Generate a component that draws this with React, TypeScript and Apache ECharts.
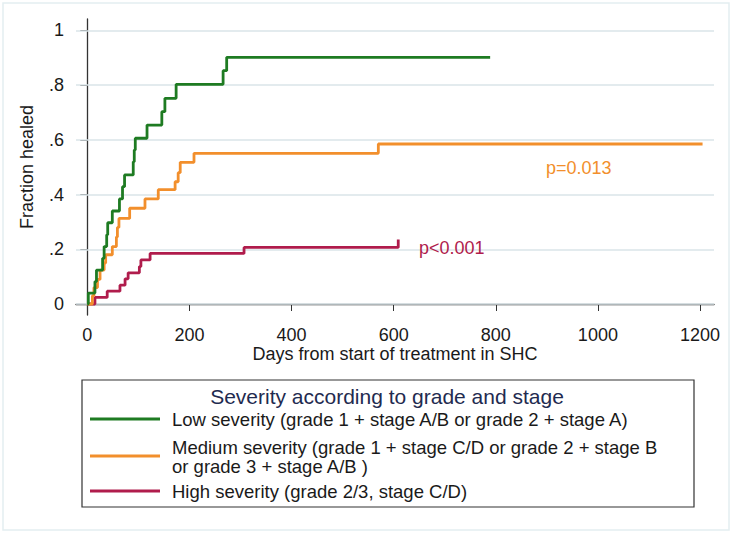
import React, { useEffect, useRef } from "react";
import * as echarts from "echarts";

const xTicks = [0, 200, 400, 600, 800, 1000, 1200];
const yTicks = [0, 0.2, 0.4, 0.6, 0.8, 1];

const lowDays = [0, 2, 15, 18, 30, 33, 38, 40, 49, 63, 69, 73, 90, 92, 94, 117, 146, 152, 174, 266, 273, 789];
const lowFrac = [0, 0.04, 0.082, 0.124, 0.167, 0.21, 0.253, 0.297, 0.34, 0.384, 0.429, 0.472, 0.52, 0.563, 0.606, 0.654, 0.703, 0.752, 0.803, 0.853, 0.902, 0.902];

const medDays = [0, 10, 13, 20, 25, 33, 36, 49, 57, 59, 62, 83, 113, 139, 172, 178, 182, 209, 570, 1205];
const medFrac = [0, 0.03, 0.06, 0.09, 0.124, 0.15, 0.18, 0.21, 0.245, 0.28, 0.313, 0.35, 0.384, 0.418, 0.447, 0.48, 0.518, 0.551, 0.585, 0.585];

const highDays = [0, 15, 39, 64, 74, 80, 102, 105, 123, 307, 609];
const highFrac = [0, 0.024, 0.047, 0.069, 0.092, 0.114, 0.137, 0.161, 0.185, 0.207, 0.236];

const seriesNames = [
  "Low severity (grade 1 + stage A/B or grade 2 + stage A)",
  "Medium severity (grade 1 + stage C/D or grade 2 + stage B",
  "High severity (grade 2/3, stage C/D)",
];
const mediumSecondLine = "or grade 3 + stage A/B )";
const legendTitle = "Severity according to grade and stage";
const colors = ["#1e7b22", "#f28f2c", "#b01c4c"];
const pLabels = ["p=0.013", "p<0.001"];

const FONT = "'Liberation Sans', Arial, Helvetica, sans-serif";

function pairs(d: number[], v: number[]) {
  return d.map((x, i) => [x, v[i]]);
}

export default function App() {
  const ref = useRef<HTMLDivElement>(null);
  useEffect(() => {
    document.body.style.margin = "0";
    if (!ref.current) return;
    const chart = echarts.init(ref.current, null, { renderer: "svg" });
    const data = [pairs(lowDays, lowFrac), pairs(medDays, medFrac), pairs(highDays, highFrac)];
    const legendRows = [419, 456, 491];
    const legendText = (text: string, y: number) => ({
      type: "text",
      z: 100,
      x: 172,
      y,
      style: { text, fill: "#1a1a1a", fontSize: 18.5, fontFamily: FONT, verticalAlign: "middle" },
    });
    const option: any = {
      animation: false,
      backgroundColor: "#ffffff",
      textStyle: { fontFamily: FONT },
      grid: { left: 76, top: 19, right: 19, bottom: 218, containLabel: false },
      xAxis: {
        type: "value",
        min: -22.1,
        max: 1227.4,
        name: "Days from start of treatment in SHC",
        nameLocation: "middle",
        nameGap: 30,
        nameMoveOverlap: false,
        nameTextStyle: { fontSize: 18, color: "#1a1a1a", fontFamily: FONT, verticalAlign: "top" },
        axisLine: { show: true, lineStyle: { color: "#333", width: 1.3 } },
        axisTick: { show: true, length: 7, customValues: xTicks, lineStyle: { color: "#333", width: 1 } },
        axisLabel: {
          customValues: xTicks,
          fontSize: 18,
          color: "#1a1a1a",
          margin: 11,
          fontFamily: FONT,
          formatter: (v: number) => String(Math.round(v)),
        },
        splitLine: { show: false },
      },
      yAxis: {
        type: "value",
        min: -0.0402,
        max: 1.042,
        name: "Fraction healed",
        nameLocation: "middle",
        nameRotate: 90,
        nameGap: 40,
        nameMoveOverlap: false,
        nameTextStyle: { fontSize: 18, color: "#1a1a1a", fontFamily: FONT },
        axisLine: { show: true, lineStyle: { color: "#333", width: 1.3 } },
        axisTick: { show: true, length: 7, customValues: yTicks, lineStyle: { color: "#333", width: 1 } },
        axisLabel: {
          customValues: yTicks,
          fontSize: 18,
          color: "#1a1a1a",
          margin: 12,
          fontFamily: FONT,
          formatter: (v: number) => (v === 0 ? "0" : v === 1 ? "1" : String(Math.round(v * 10) / 10).replace(/^0/, "")),
        },
        splitLine: { show: false },
      },
      series: [
        ...data.map((d, i) => ({
          type: "line",
          name: seriesNames[i],
          data: d,
          step: "end",
          showSymbol: false,
          symbol: "none",
          z: 12 - i,
          lineStyle: { color: colors[i], width: 2.8 },
          itemStyle: { color: colors[i] },
        })),
        {
          type: "line",
          name: "gridlines",
          data: [[-10, -0.03]],
          showSymbol: false,
          symbol: "none",
          z: 1,
          lineStyle: { width: 0, opacity: 0 },
          silent: true,
          markLine: {
            silent: true,
            symbol: ["none", "none"],
            label: { show: false },
            lineStyle: { color: "#dae4e8", width: 1.5, type: "solid" },
            data: yTicks.map((t) => ({ yAxis: t })),
          },
        },
      ],
      graphic: [
        {
          type: "rect",
          silent: true,
          z: 0,
          shape: { x: 3, y: 3, width: 726, height: 527 },
          style: { fill: "none", stroke: "#e4eef1", lineWidth: 1.5 },
        },
        {
          type: "text",
          z: 100,
          left: 546,
          top: 159,
          style: { text: pLabels[0], fill: colors[1], fontSize: 18, fontFamily: FONT },
        },
        {
          type: "text",
          z: 100,
          left: 419,
          top: 239,
          style: { text: pLabels[1], fill: colors[2], fontSize: 18, fontFamily: FONT },
        },
        {
          type: "rect",
          z: 50,
          shape: { x: 82, y: 380, width: 612, height: 127 },
          style: { fill: "#fff", stroke: "#333", lineWidth: 1.2 },
        },
        {
          type: "text",
          z: 100,
          x: 387,
          y: 396,
          style: {
            text: legendTitle,
            fill: "#1f2b50",
            fontSize: 21,
            fontFamily: FONT,
            align: "center",
            verticalAlign: "middle",
          },
        },
        ...legendRows.map((y, i) => ({
          type: "line",
          z: 100,
          shape: { x1: 90, y1: y, x2: 160, y2: y },
          style: { stroke: colors[i], lineWidth: 2.8 },
        })),
        legendText(seriesNames[0], 419),
        legendText(seriesNames[1], 447),
        legendText(mediumSecondLine, 466),
        legendText(seriesNames[2], 491),
      ],
    };
    chart.setOption(option);
    return () => chart.dispose();
  }, []);
  return <div ref={ref} style={{ width: 733, height: 533 }} />;
}
